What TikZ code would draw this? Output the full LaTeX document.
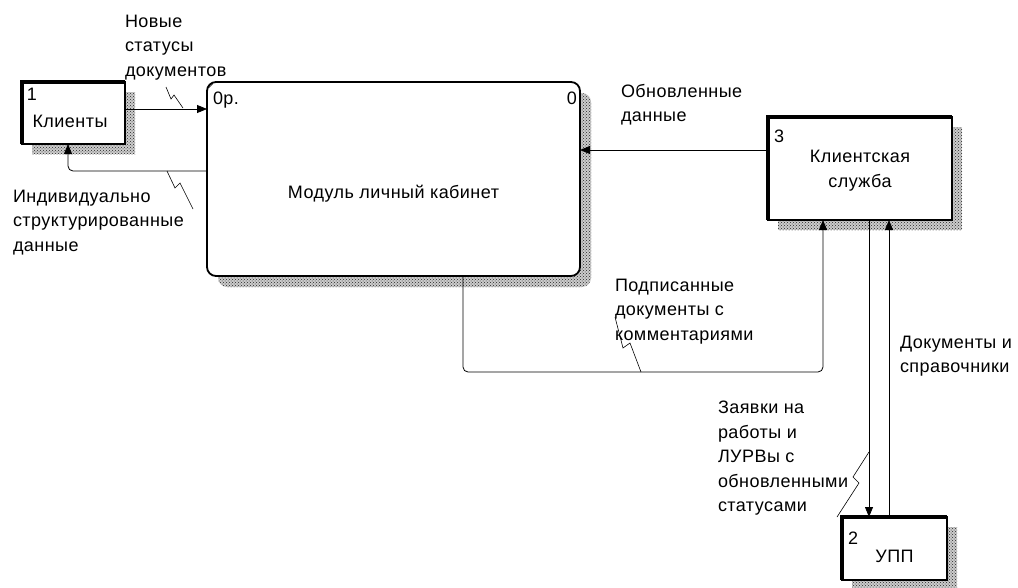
\documentclass[tikz,border=0pt]{standalone}
\usepackage{fontspec}
\setmainfont{Liberation Sans}[LetterSpace=2.5]
\usepackage{tikz}
\usetikzlibrary{positioning,calc,patterns,arrows.meta,backgrounds}

\begin{document}
\begin{tikzpicture}[
  x=1pt, y=-1pt,
  dfdtext/.style={font=\fontsize{18}{24.5}\selectfont, inner sep=0pt, outer sep=0pt},
  flowlbl/.style={dfdtext, align=left, anchor=north west},
  entbox/.style={draw=black, line width=1.4pt, fill=white, inner sep=0pt, outer sep=0pt},
  procbox/.style={draw=black, line width=1.8pt, fill=white, rounded corners=9pt, inner sep=0pt, outer sep=0pt},
  hatchshadow/.style={preaction={fill=gray!40}, pattern=crosshatch dots, pattern color=gray!30!black},
  flow/.style={draw=black, line width=0.8pt, -{Triangle[length=10pt,width=8pt]}},
  zigzag/.style={draw=black, line width=0.6pt},
]
% Pixel grid of the sheet: x to the right, y downwards (1 unit = 1pt).
\useasboundingbox (0,0) rectangle (1018,587);

% --- Process and external entities
\node[procbox, minimum width=373pt, minimum height=194pt] (main) at (393.5,179) {};
\node[entbox, minimum width=103pt, minimum height=62pt] (kl) at (73.5,113) {};
\node[entbox, minimum width=184pt, minimum height=103pt] (ks) at (860,168.5) {};
\node[entbox, minimum width=105pt, minimum height=63pt] (upp) at (894.5,548.5) {};

% thick left and top edge of an external entity
\foreach \b in {kl,ks,upp}
  \draw[line width=3.5pt] (\b.south west) |- (\b.north east);

% small double line in the top left corner of the process
\draw[line width=0.6pt] ([shift={(1.5pt,-6pt)}]main.north west) -- ([shift={(6pt,-1.5pt)}]main.north west);

% --- Shadows (behind the boxes)
\begin{scope}[on background layer]
  \foreach \b in {kl,ks,upp}
    \fill[hatchshadow] ([shift={(10pt,-10pt)}]\b.south west) rectangle ([shift={(10pt,-10pt)}]\b.north east);
  \fill[hatchshadow, rounded corners=9pt] ([shift={(11pt,-11pt)}]main.south west) rectangle ([shift={(11pt,-11pt)}]main.north east);
\end{scope}

% --- Box texts
\node[dfdtext, anchor=north west] (mainnum) at ([shift={(6pt,-10pt)}]main.north west) {0р.};
\node[dfdtext, anchor=north east] (mainid) at ([shift={(-3pt,-10pt)}]main.north east) {0};
\node[dfdtext] (maintxt) at ([yshift=-15pt]main.center) {Модуль личный кабинет};

\node[dfdtext, anchor=north west] (klnum) at ([shift={(5pt,-6pt)}]kl.north west) {1};
\node[dfdtext] (kltxt) at ([shift={(-3.5pt,-8pt)}]kl.center) {Клиенты};

\node[dfdtext, anchor=north west] (ksnum) at ([shift={(6pt,-13pt)}]ks.north west) {3};
\node[dfdtext, align=center] (kstxt) at ([yshift=-2pt]ks.center) {Клиентская\\служба};

\node[dfdtext, anchor=north west] (uppnum) at ([shift={(6pt,-15pt)}]upp.north west) {2};
\node[dfdtext] (upptxt) at ([yshift=-7.5pt]upp.center) {УПП};

% --- Data flows
\draw[flow] ([yshift=4pt]kl.east) -- ([yshift=4pt]kl.east -| main.west);
\draw[flow, rounded corners=5pt] ([yshift=8pt]main.west) -| ([xshift=-5.5pt]kl.south);
\draw[flow] ([yshift=18.5pt]ks.west) -- ([yshift=18.5pt]ks.west -| main.east);
\coordinate (sigturn) at (823,372);
\draw[flow, rounded corners=5pt] ([xshift=69.5pt]main.south) |- (sigturn) -- ([xshift=-37pt]ks.south);
\draw[flow] ([xshift=9pt]ks.south) -- ([xshift=9pt]ks.south |- upp.north);
\draw[flow] ([xshift=-5.5pt]upp.north) -- ([xshift=-5.5pt]upp.north |- ks.south);

% --- Flow labels
\node[flowlbl] (newstat) at (125,15) {Новые\\статусы\\документов};
\node[flowlbl] (indiv) at (13,190) {Индивидуально\\структурированные\\данные};
\node[flowlbl] (obnov) at (621,84) {Обновленные\\данные};
\node[flowlbl] (podp) at (615,279) {Подписанные\\документы с\\комментариями};
\node[flowlbl] (zayav) at (718,401) {Заявки на\\работы и\\ЛУРВы с\\обновленными\\статусами};
\node[flowlbl] (dokum) at (900,336) {Документы и\\справочники};

% squiggles from labels to their flows
\draw[zigzag] (166,87) -- (171,99) -- (174,95) -- (183,108);
\draw[zigzag] (167,171) -- (175,188) -- (180,183) -- (193,209);
\draw[zigzag] (615,317) -- (623,348) -- (630,343) -- (641,372);
\draw[zigzag] (869,452) -- (853,477) -- (859,483) -- (837,517);
\end{tikzpicture}
\end{document}
